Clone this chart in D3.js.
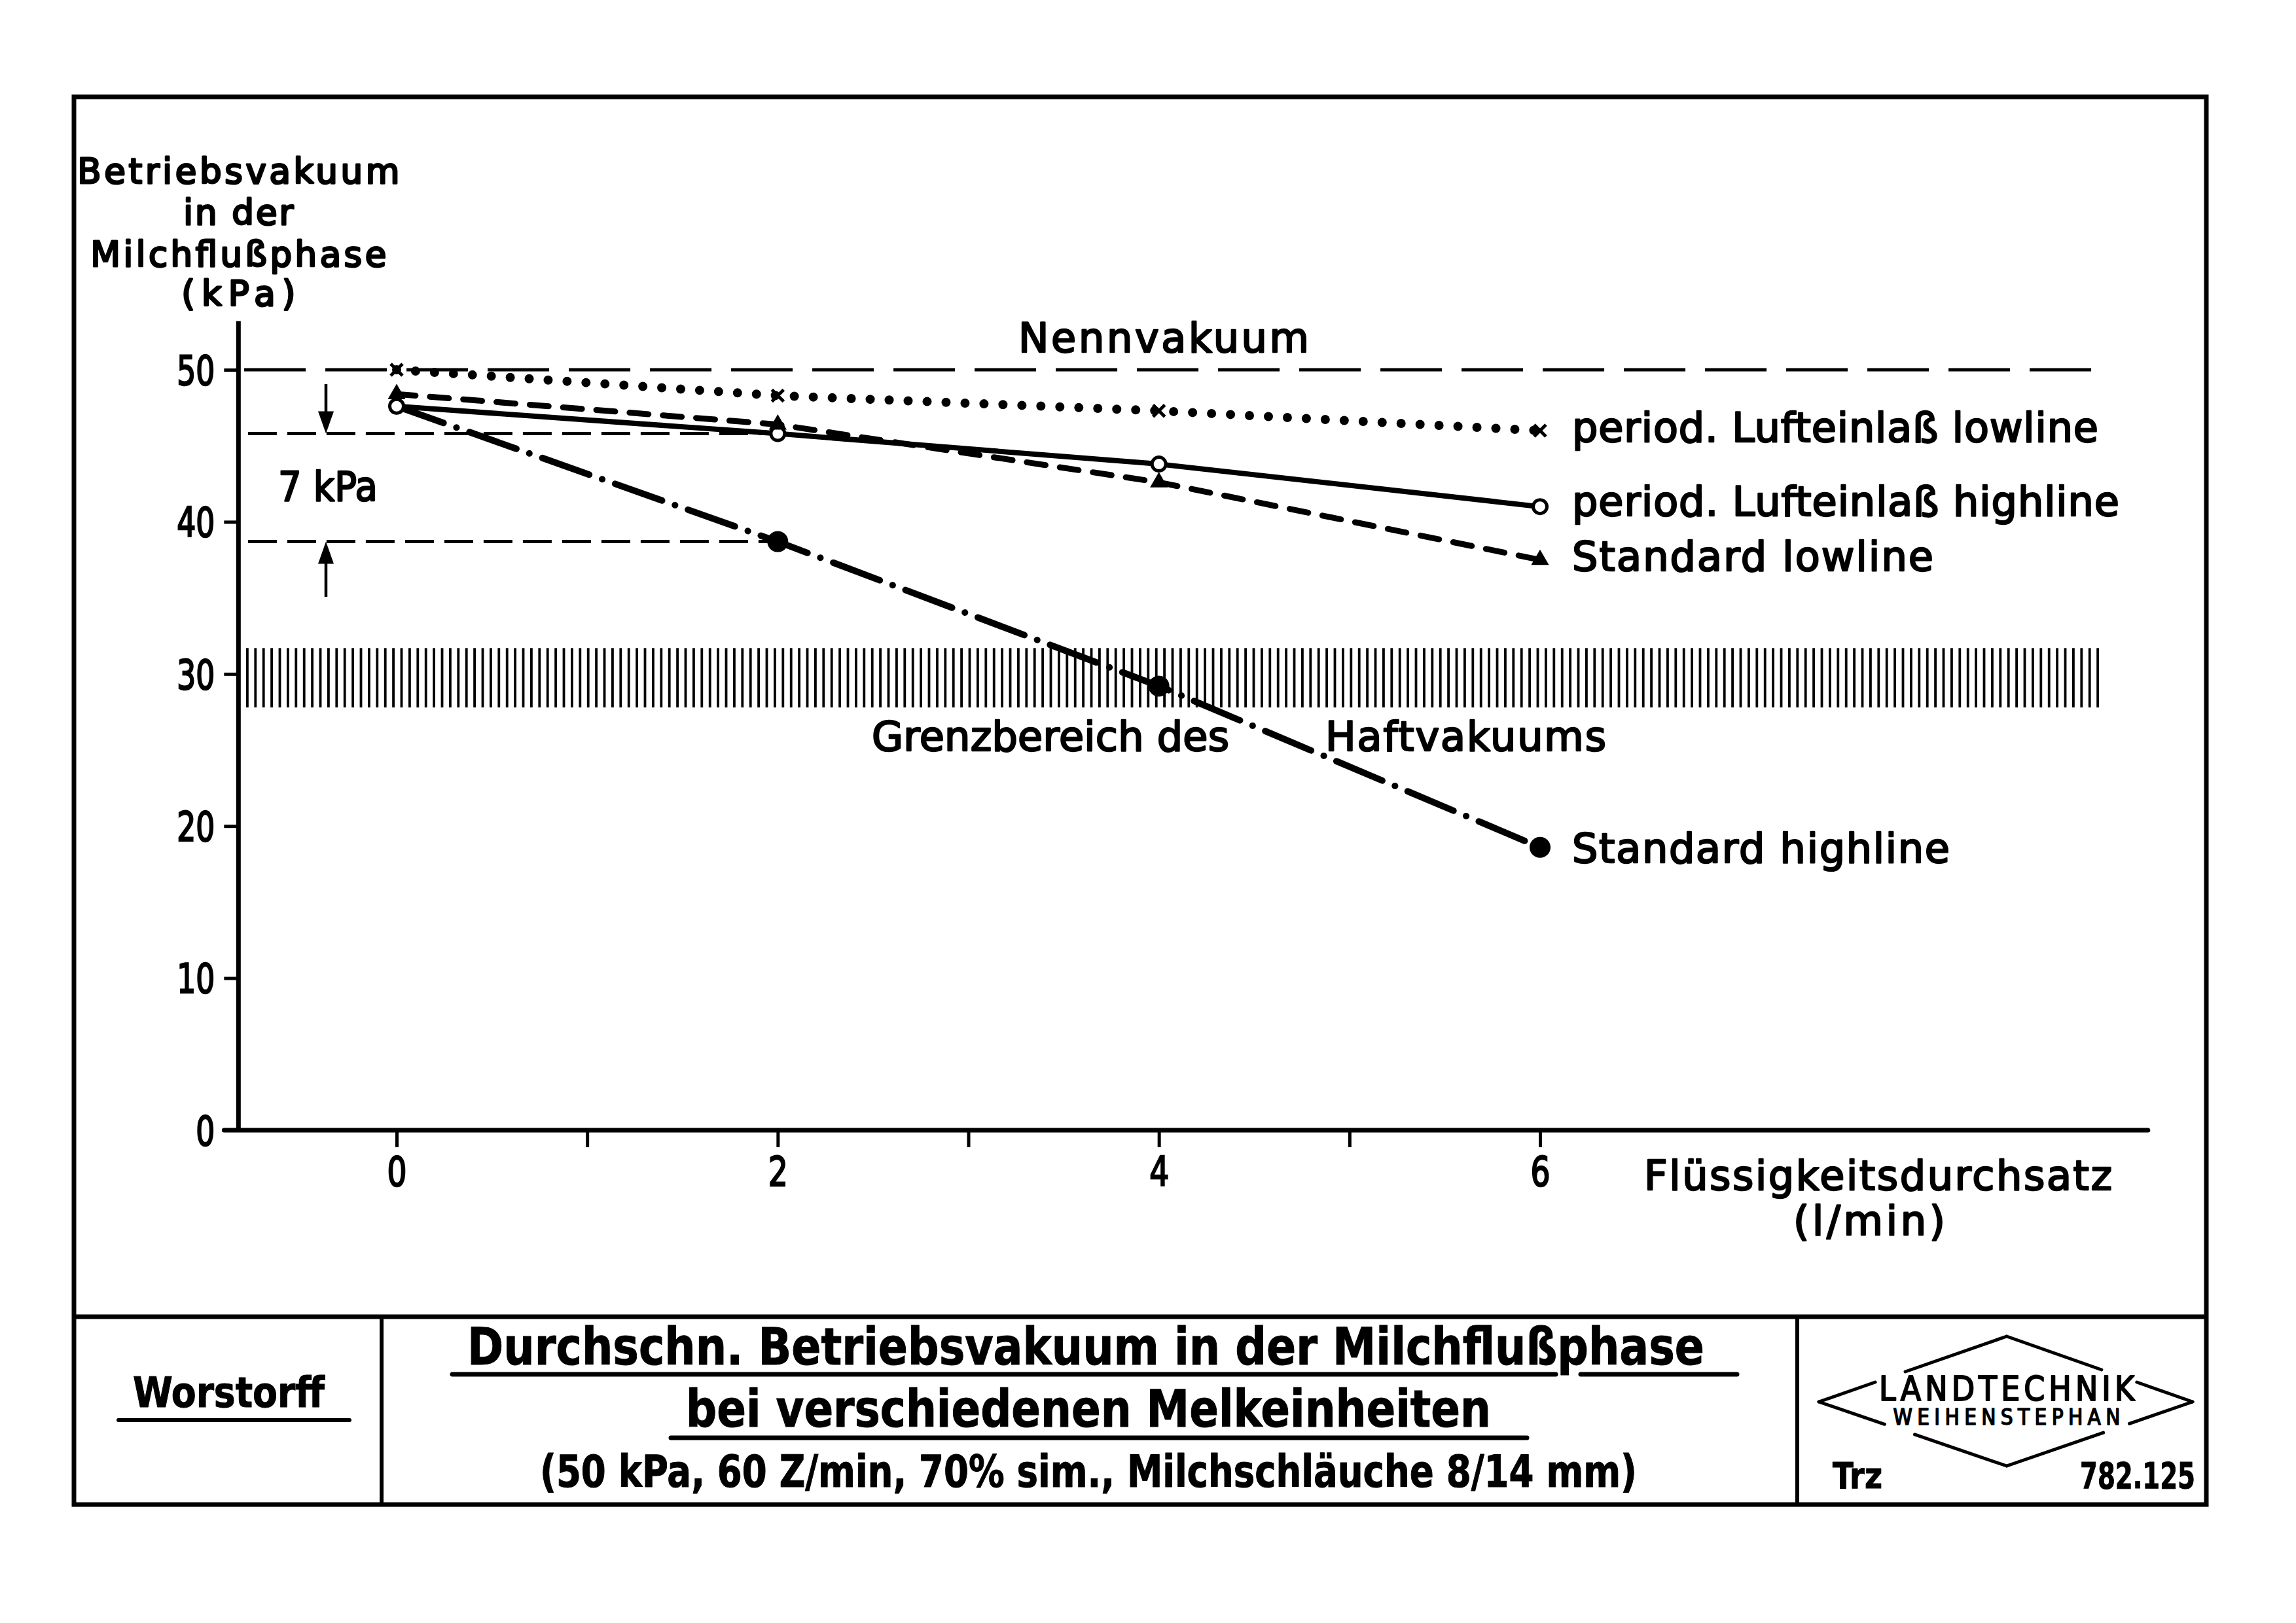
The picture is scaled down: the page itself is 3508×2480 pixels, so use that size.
<!DOCTYPE html>
<html><head><meta charset="utf-8">
<script src="https://cdn.jsdelivr.net/npm/d3@7"></script>
<style>html,body{margin:0;padding:0;background:#fff;}</style>
</head><body>
<script>
// ---------- data ----------
const xValues = [0, 2, 4, 6];
const periodLowline  = [50.0, 48.3, 47.3, 46.0];   // x markers, dotted
const periodHighline = [47.6, 45.8, 43.8, 41.0];   // open circles, solid
const standardLowline  = [48.4, 46.4, 42.6, 37.5]; // triangles, dashed
const standardHighline = [47.6, 38.7, 29.2, 18.6]; // filled circles, dash-dot
const yTicks = [0, 10, 20, 30, 40, 50];
const xTicks = [0, 1, 2, 3, 4, 5, 6];
const xTickLabels = ["0", "", "2", "", "4", "", "6"];
const nennvakuum = 50;
const haftBand = [27.8, 31.7];
const refLevels = [45.8, 38.7]; // 7 kPa difference
const seriesLabels = ["period. Lufteinlaß lowline", "period. Lufteinlaß highline", "Standard lowline", "Standard highline"];

// ---------- setup ----------
const W = 3508, H = 2480;
const F = "'DejaVu Sans', sans-serif";
const FC = "'DejaVu Sans Condensed', 'DejaVu Sans', sans-serif";
const svg = d3.select("body").append("svg").attr("width", W).attr("height", H);
svg.append("rect").attr("width", W).attr("height", H).attr("fill", "#fff");

const x = d3.scaleLinear().domain([0, 6]).range([606, 2353]);
const y = d3.scaleLinear().domain([0, 50]).range([1727, 565]);
const xMin = -0.83, xMax = 9.19, yTop = 53.2;

function fit(sel, w) {
  sel.each(function () {
    const n = this.getComputedTextLength();
    d3.select(this).attr("textLength", w).attr("lengthAdjust", n > w ? "spacingAndGlyphs" : "spacing");
  });
  return sel;
}
function txt(t, px, py, size, w, anchor, fam, weight, sw) {
  const s = svg.append("text").attr("x", px).attr("y", py).text(t)
    .attr("font-family", fam || F).attr("font-size", size)
    .attr("font-weight", weight || "normal")
    .attr("text-anchor", anchor || "start")
    .attr("fill", "#000").attr("stroke", "#000").attr("stroke-width", sw == null ? 2.5 : sw)
    .attr("stroke-linejoin", "round");
  return fit(s, w);
}

// ---------- frame ----------
svg.append("rect").attr("x", 113).attr("y", 148).attr("width", 3258).attr("height", 2151)
  .attr("fill", "none").attr("stroke", "#000").attr("stroke-width", 7);
svg.append("line").attr("x1", 113).attr("x2", 3371).attr("y1", 2012).attr("y2", 2012).attr("stroke", "#000").attr("stroke-width", 7);
[583, 2746].forEach(px => svg.append("line").attr("x1", px).attr("x2", px).attr("y1", 2012).attr("y2", 2299).attr("stroke", "#000").attr("stroke-width", 6));

// ---------- hatched band ----------
const defs = svg.append("defs");
const pat = defs.append("pattern").attr("id", "hatch").attr("patternUnits", "userSpaceOnUse")
  .attr("x", 376).attr("y", 0).attr("width", 12.4).attr("height", 20);
pat.append("rect").attr("x", 0).attr("y", 0).attr("width", 3.8).attr("height", 20).attr("fill", "#000");
svg.append("rect").attr("x", x(-0.79)).attr("y", y(haftBand[1]))
  .attr("width", x(8.95) - x(-0.79)).attr("height", y(haftBand[0]) - y(haftBand[1]))
  .attr("fill", "url(#hatch)");

// ---------- axes ----------
const yAxisX = x(xMin);
svg.append("line").attr("x1", yAxisX).attr("x2", yAxisX).attr("y1", y(yTop)).attr("y2", y(0))
  .attr("stroke", "#000").attr("stroke-width", 7);
svg.append("line").attr("x1", yAxisX - 22).attr("x2", x(xMax)).attr("y1", y(0)).attr("y2", y(0))
  .attr("stroke", "#000").attr("stroke-width", 7).attr("stroke-linecap", "round");

const gy = svg.append("g").attr("transform", `translate(${yAxisX},0)`)
  .call(d3.axisLeft(y).tickValues(yTicks).tickSize(22).tickPadding(14));
gy.select(".domain").remove();
gy.selectAll(".tick line").attr("stroke", "#000").attr("stroke-width", 5);
gy.selectAll(".tick text").attr("font-family", F).attr("font-size", 62).attr("fill", "#000")
  .attr("stroke", "#000").attr("stroke-width", 2.5).attr("dy", "0.36em")
  .each(function () { fit(d3.select(this), this.textContent.length * 29); });

const gx = svg.append("g").attr("transform", `translate(0,${y(0)})`)
  .call(d3.axisBottom(x).tickValues(xTicks).tickSize(26).tickPadding(15).tickFormat((d, i) => xTickLabels[i]));
gx.select(".domain").remove();
gx.selectAll(".tick line").attr("stroke", "#000").attr("stroke-width", 5);
gx.selectAll(".tick text").attr("font-family", F).attr("font-size", 62).attr("fill", "#000")
  .attr("stroke", "#000").attr("stroke-width", 2.5)
  .each(function () { if (this.textContent) fit(d3.select(this), 30); });

// ---------- reference lines ----------
svg.append("line").attr("x1", x(-0.8)).attr("x2", x(8.98)).attr("y1", y(nennvakuum)).attr("y2", y(nennvakuum))
  .attr("stroke", "#000").attr("stroke-width", 5).attr("stroke-dasharray", "94 30");
refLevels.forEach((v, i) => {
  svg.append("line").attr("x1", x(-0.78)).attr("x2", x(2) - (i === 0 ? 20 : 14)).attr("y1", y(v)).attr("y2", y(v))
    .attr("stroke", "#000").attr("stroke-width", 5).attr("stroke-dasharray", "44 16");
});
// 7 kPa arrows
const ax = 498;
function arrow(yFrom, yTip) {
  const dir = yTip > yFrom ? 1 : -1;
  svg.append("line").attr("x1", ax).attr("x2", ax).attr("y1", yFrom).attr("y2", yTip - dir * 20)
    .attr("stroke", "#000").attr("stroke-width", 4.5);
  svg.append("path").attr("d", `M${ax},${yTip} L${ax - 12},${yTip - dir * 34} L${ax + 12},${yTip - dir * 34} Z`).attr("fill", "#000");
}
arrow(587, y(refLevels[0]));
arrow(912, y(refLevels[1]));

// ---------- series ----------
const line = d3.line().x((d, i) => x(xValues[i])).y(d => y(d));
svg.append("path").datum(standardHighline).attr("d", line).attr("fill", "none").attr("stroke", "#000")
  .attr("stroke-width", 10).attr("stroke-linecap", "round").attr("stroke-dasharray", "76 21 0.1 21");
svg.append("path").datum(standardLowline).attr("d", line).attr("fill", "none").attr("stroke", "#000")
  .attr("stroke-width", 9).attr("stroke-linecap", "round").attr("stroke-dasharray", "29 22");
svg.append("path").datum(periodHighline).attr("d", line).attr("fill", "none").attr("stroke", "#000")
  .attr("stroke-width", 8);
svg.append("path").datum(periodLowline).attr("d", line).attr("fill", "none").attr("stroke", "#000")
  .attr("stroke-width", 14).attr("stroke-linecap", "round").attr("stroke-dasharray", "0 29");

// markers
svg.selectAll(".fdot").data(standardHighline.slice(1)).enter().append("circle")
  .attr("cx", (d, i) => x(xValues[i + 1])).attr("cy", d => y(d)).attr("r", 16).attr("fill", "#000");
svg.selectAll(".ocirc").data(periodHighline).enter().append("circle")
  .attr("cx", (d, i) => x(xValues[i])).attr("cy", d => y(d)).attr("r", 10.5)
  .attr("fill", "#fff").attr("stroke", "#000").attr("stroke-width", 5);
svg.selectAll(".tri").data(standardLowline).enter().append("path")
  .attr("d", d3.symbol(d3.symbolTriangle).size(320))
  .attr("transform", (d, i) => `translate(${x(xValues[i])},${y(d)})`).attr("fill", "#000");
svg.selectAll(".xm").data(periodLowline).enter().append("path")
  .attr("d", "M-9,-9L9,9M-9,9L9,-9")
  .attr("transform", (d, i) => `translate(${x(xValues[i])},${y(d)})`)
  .attr("stroke", "#000").attr("stroke-width", 5).attr("fill", "none");

// ---------- chart texts ----------
txt("Betriebsvakuum", yAxisX, 280, 53, 492, "middle", F, "normal", 3);
txt("in der", yAxisX, 343, 53, 168, "middle", F, "normal", 3);
txt("Milchflußphase", yAxisX, 407, 53, 452, "middle", F, "normal", 3);
txt("(kPa)", yAxisX, 467, 53, 174, "middle", F, "normal", 3);
txt("Nennvakuum", 1778, 538, 62, 444, "middle");
txt("7 kPa", 425, 765, 62, 152);
txt(seriesLabels[0], 2402, 675, 62, 804);
txt(seriesLabels[1], 2402, 788, 62, 836);
txt(seriesLabels[2], 2402, 872, 62, 552);
txt(seriesLabels[3], 2402, 1318, 62, 577);
txt("Grenzbereich des", 1332, 1147, 62, 546);
txt("Haftvakuums", 2025, 1147, 62, 429);
txt("Flüssigkeitsdurchsatz", 2512, 1818, 62, 715);
txt("(l/min)", 2740, 1887, 62, 232);

// ---------- title block ----------
txt("Worstorff", 203, 2150, 64, 293, "start", FC, "bold", 1);
svg.append("line").attr("x1", 181).attr("x2", 534).attr("y1", 2170).attr("y2", 2170).attr("stroke", "#000").attr("stroke-width", 6).attr("stroke-linecap", "round");
txt("Durchschn. Betriebsvakuum in der Milchflußphase", 714, 2085, 78, 1890, "start", FC, "bold", 1);
[[691, 2377], [2415, 2654]].forEach(s => svg.append("line").attr("x1", s[0]).attr("x2", s[1]).attr("y1", 2100).attr("y2", 2100).attr("stroke", "#000").attr("stroke-width", 7).attr("stroke-linecap", "round"));
txt("bei verschiedenen Melkeinheiten", 1048, 2180, 78, 1230, "start", FC, "bold", 1);
svg.append("line").attr("x1", 1025).attr("x2", 2333).attr("y1", 2197).attr("y2", 2197).attr("stroke", "#000").attr("stroke-width", 7).attr("stroke-linecap", "round");
txt("(50 kPa, 60 Z/min, 70% sim., Milchschläuche 8/14 mm)", 825, 2272, 68, 1676, "start", FC, "bold", 1);

// logo
const L = [2779, 2142], T = [3066, 2042], R = [3350, 2142], B = [3066, 2240];
function seg(a, b, t0, t1) {
  svg.append("line").attr("x1", a[0] + (b[0] - a[0]) * t0).attr("y1", a[1] + (b[1] - a[1]) * t0)
    .attr("x2", a[0] + (b[0] - a[0]) * t1).attr("y2", a[1] + (b[1] - a[1]) * t1)
    .attr("stroke", "#000").attr("stroke-width", 5).attr("stroke-linecap", "round");
}
[[L, T, 0.30, 0.46], [R, T, 0.30, 0.49], [L, B, 0.35, 0.51], [R, B, 0.34, 0.48]].forEach(e => {
  seg(e[0], e[1], 0, e[2]); seg(e[0], e[1], e[3], 1);
});
txt("LANDTECHNIK", 3066, 2140, 51, 390, "middle", FC, "normal", 2);
txt("WEIHENSTEPHAN", 3066, 2177, 33, 347, "middle", FC, "normal", 1.5);
txt("Trz", 2800, 2274, 56, 76, "start", FC, "bold", 1);
txt("782.125", 3354, 2274, 56, 176, "end", FC, "bold", 1);
</script>
</body></html>
